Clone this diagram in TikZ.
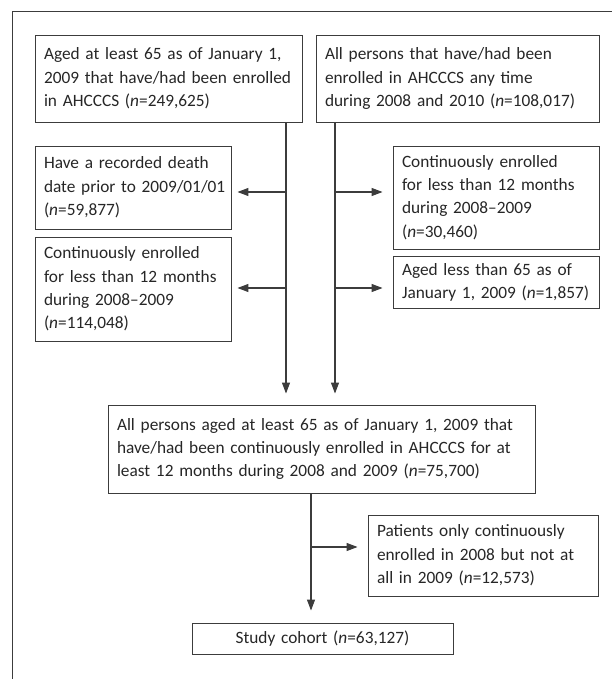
\documentclass[tikz,border=0pt]{standalone}
\usepackage{fontspec}
\setmainfont{Carlito}
\usetikzlibrary{arrows.meta}
\definecolor{linegray}{HTML}{3C3C3C}
\definecolor{textgray}{HTML}{262626}
\newcommand{\nval}[1]{(\textit{n}=#1)}
\newcommand{\boxlines}[1]{\begin{tabular}{@{}l@{}}#1\end{tabular}}

\begin{document}
\begin{tikzpicture}[x=1pt,y=-1pt]
    \tikzstyle{every node}+=[font=\fontsize{17.3}{23.3}\selectfont, text=textgray]
    \tikzstyle{box}=[draw=linegray, line width=0.9pt, inner xsep=9pt, inner ysep=0pt, align=left]
    \tikzstyle{arr}=[draw=linegray, line width=1.1pt, -{Triangle[length=11pt,width=8pt]}]
    \useasboundingbox (0,0) rectangle (612,679);
    \draw [linegray, line width=0.9pt] (12,679) -- (12,11) -- (612,11);
    \node [box, text width=249pt, minimum height=87pt] (A) at (168.5,78.5) {\boxlines{Aged at least 65 as of January 1,\\2009 that have/had been enrolled\\in AHCCCS \nval{249,625}}};
    \node [box, text width=265pt, minimum height=87pt] (B) at (457.5,78.5) {\boxlines{All persons that have/had been\\enrolled in AHCCCS any time\\during 2008 and 2010 \nval{108,017}}};
    \node [box, text width=178pt, minimum height=83pt] (C) at (133,187.5) {\boxlines{Have a recorded death\\date prior to 2009/01/01\\\nval{59,877}}};
    \node [box, text width=178pt, minimum height=104pt] (D) at (133,289) {\boxlines{Continuously enrolled\\for less than 12 months\\during 2008--2009\\\nval{114,048}}};
    \node [box, text width=188pt, minimum height=103pt] (E) at (496,197.5) {\boxlines{Continuously enrolled\\for less than 12 months\\during 2008--2009\\\nval{30,460}}};
    \node [box, text width=188pt, minimum height=52pt] (F) at (496,282) {\boxlines{Aged less than 65 as of\\January 1, 2009 \nval{1,857}}};
    \node [box, text width=409pt, minimum height=88pt] (M) at (321.5,449) {\boxlines{All persons aged at least 65 as of January 1, 2009 that\\have/had been continuously enrolled in AHCCCS for at\\least 12 months during 2008 and 2009 \nval{75,700}}};
    \node [box, text width=212pt, minimum height=81pt] (P) at (483,555.5) {\boxlines{Patients only continuously\\enrolled in 2008 but not at\\all in 2009 \nval{12,573}}};
    \node [box, text width=243pt, minimum height=31pt, align=center] (S) at (322.5,638.5) {Study cohort \nval{63,127}};
    \coordinate (xL) at (286,0);
    \coordinate (xR) at (335,0);
    \coordinate (xM) at (311,0);
    \coordinate (y1) at (0,192);
    \coordinate (y2) at (0,288);
    \coordinate (y3) at (0,547);
    \draw [arr, shorten >=11pt] (A.south -| xL) -- (M.north -| xL);
    \draw [arr, shorten >=11pt] (B.south -| xR) -- (M.north -| xR);
    \draw [arr, shorten >=6pt] (xL |- y1) -- (C.east |- y1);
    \draw [arr, shorten >=6pt] (xL |- y2) -- (D.east |- y2);
    \draw [arr, shorten >=10pt] (xR |- y1) -- (E.west |- y1);
    \draw [arr, shorten >=10pt] (xR |- y2) -- (F.west |- y2);
    \draw [arr, shorten >=12pt] (M.south -| xM) -- (S.north -| xM);
    \draw [arr, shorten >=10pt] (xM |- y3) -- (P.west |- y3);
\end{tikzpicture}
\end{document}
